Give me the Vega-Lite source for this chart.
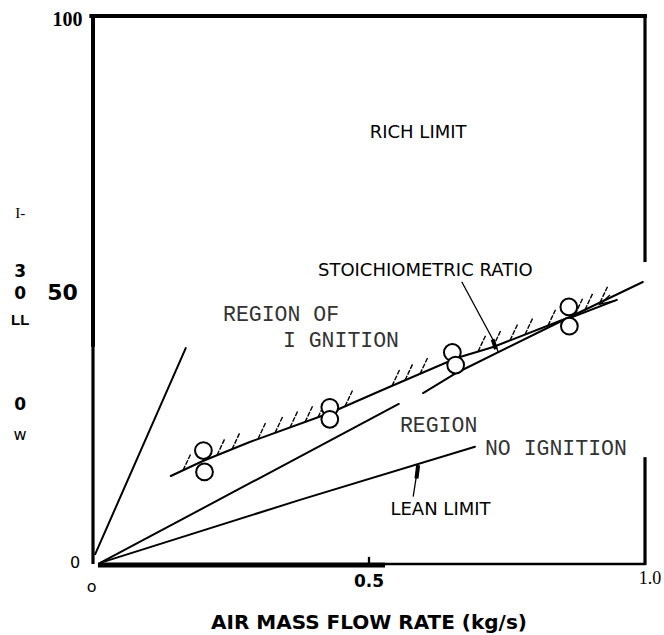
{
  "$schema": "https://vega.github.io/schema/vega-lite/v6.json",
  "width": 552,
  "height": 548,
  "autosize": {"type": "none"},
  "padding": {"left": 93, "top": 16, "right": 19, "bottom": 71},
  "background": "white",
  "config": {"view": {"stroke": null}},
  "datasets": {
    "frame": [
      {"part": "top", "x": -0.003, "y": 100, "x2": 1.0, "y2": 100},
      {"part": "left-upper", "x": 0, "y": 100, "x2": 0, "y2": 40},
      {"part": "left-lower", "x": 0, "y": 40, "x2": 0, "y2": 0},
      {"part": "right-upper", "x": 1.0, "y": 100.3, "x2": 1.0, "y2": 55.1},
      {"part": "right-lower", "x": 1.0, "y": 19.5, "x2": 1.0, "y2": -0.2},
      {"part": "bottom-left", "x": 0.009, "y": -0.2, "x2": 0.529, "y2": -0.2},
      {"part": "bottom-right", "x": 0.529, "y": 0, "x2": 1.0, "y2": 0},
      {"part": "tick-half", "x": 0.5, "y": 0, "x2": 0.5, "y2": 1.3}
    ],
    "curves": [
      {"curve": "rich-limit", "ord": 1, "x": 0.004, "y": 1.8},
      {"curve": "rich-limit", "ord": 2, "x": 0.168, "y": 39.4},
      {"curve": "stoichiometric-a", "ord": 1, "x": 0.013, "y": 0.2},
      {"curve": "stoichiometric-a", "ord": 2, "x": 0.554, "y": 29.2},
      {"curve": "stoichiometric-b", "ord": 1, "x": 0.598, "y": 31.2},
      {"curve": "stoichiometric-b", "ord": 2, "x": 0.659, "y": 34.9},
      {"curve": "stoichiometric-b", "ord": 3, "x": 0.846, "y": 44.2},
      {"curve": "stoichiometric-b", "ord": 4, "x": 0.949, "y": 48.2},
      {"curve": "lean-limit", "ord": 1, "x": 0.013, "y": 0.2},
      {"curve": "lean-limit", "ord": 2, "x": 0.375, "y": 11.7},
      {"curve": "lean-limit", "ord": 3, "x": 0.692, "y": 21.4},
      {"curve": "ignition-boundary", "ord": 1, "x": 0.141, "y": 16.06},
      {"curve": "ignition-boundary", "ord": 2, "x": 0.199, "y": 18.80},
      {"curve": "ignition-boundary", "ord": 3, "x": 0.284, "y": 22.26},
      {"curve": "ignition-boundary", "ord": 4, "x": 0.429, "y": 27.55},
      {"curve": "ignition-boundary", "ord": 5, "x": 0.520, "y": 31.57},
      {"curve": "ignition-boundary", "ord": 6, "x": 0.659, "y": 37.59},
      {"curve": "ignition-boundary", "ord": 7, "x": 0.725, "y": 39.60},
      {"curve": "ignition-boundary", "ord": 8, "x": 0.864, "y": 45.07},
      {"curve": "ignition-boundary", "ord": 9, "x": 0.996, "y": 51.46}
    ],
    "pointers": [
      {"curve": "lean-pointer", "ord": 1, "x": 0.589, "y": 18.1},
      {"curve": "lean-pointer", "ord": 2, "x": 0.580, "y": 12.3},
      {"curve": "stoich-pointer", "ord": 1, "x": 0.668, "y": 51.5},
      {"curve": "stoich-pointer", "ord": 2, "x": 0.728, "y": 40.3},
      {"curve": "stoich-pointer", "ord": 3, "x": 0.734, "y": 38.7},
      {"curve": "end-arrow", "ord": 1, "x": 0.9366, "y": 49.1},
      {"curve": "end-arrow", "ord": 2, "x": 0.9185, "y": 47.4},
      {"curve": "end-arrow", "ord": 3, "x": 0.9475, "y": 48.1}
    ],
    "pointer_tips": [
      {"x": 0.589, "y": 18.0, "x2": 0.586, "y2": 15.6},
      {"x": 0.724, "y": 41.0, "x2": 0.730, "y2": 39.2}
    ],
    "hatch": [
      {"x": 0.1630, "y": 17.08, "x2": 0.1775, "y2": 20.18},
      {"x": 0.2246, "y": 19.84, "x2": 0.2391, "y2": 22.94},
      {"x": 0.2518, "y": 20.93, "x2": 0.2663, "y2": 24.03},
      {"x": 0.2989, "y": 22.82, "x2": 0.3134, "y2": 25.92},
      {"x": 0.3297, "y": 23.92, "x2": 0.3442, "y2": 27.02},
      {"x": 0.3569, "y": 24.91, "x2": 0.3714, "y2": 28.01},
      {"x": 0.3841, "y": 25.89, "x2": 0.3986, "y2": 28.99},
      {"x": 0.4076, "y": 26.75, "x2": 0.4221, "y2": 29.85},
      {"x": 0.4565, "y": 28.76, "x2": 0.4710, "y2": 31.86},
      {"x": 0.5417, "y": 32.50, "x2": 0.5562, "y2": 35.60},
      {"x": 0.5652, "y": 33.52, "x2": 0.5797, "y2": 36.62},
      {"x": 0.5924, "y": 34.69, "x2": 0.6069, "y2": 37.79},
      {"x": 0.6975, "y": 38.76, "x2": 0.7120, "y2": 41.86},
      {"x": 0.7246, "y": 39.60, "x2": 0.7391, "y2": 42.70},
      {"x": 0.7554, "y": 40.80, "x2": 0.7699, "y2": 43.90},
      {"x": 0.7826, "y": 41.88, "x2": 0.7971, "y2": 44.98},
      {"x": 0.8243, "y": 43.50, "x2": 0.8388, "y2": 46.60},
      {"x": 0.8732, "y": 45.51, "x2": 0.8877, "y2": 48.61},
      {"x": 0.8913, "y": 46.39, "x2": 0.9058, "y2": 49.49},
      {"x": 0.9185, "y": 47.70, "x2": 0.9330, "y2": 50.80}
    ],
    "tests": [
      {"x": 0.200, "y": 20.7},
      {"x": 0.202, "y": 16.8},
      {"x": 0.429, "y": 28.6},
      {"x": 0.429, "y": 26.4},
      {"x": 0.651, "y": 38.6},
      {"x": 0.657, "y": 36.3},
      {"x": 0.862, "y": 46.9},
      {"x": 0.863, "y": 43.4}
    ],
    "sans_labels": [
      {"text": "RICH LIMIT", "x": 0.589, "y": 78.6},
      {"text": "STOICHIOMETRIC RATIO", "x": 0.602, "y": 53.5},
      {"text": "LEAN LIMIT", "x": 0.6295, "y": 9.85}
    ],
    "mono_labels": [
      {"text": "REGION OF", "x": 0.2355, "y": 45.4},
      {"text": "I GNITION", "x": 0.344, "y": 40.7},
      {"text": "REGION", "x": 0.556, "y": 25.2},
      {"text": "NO IGNITION", "x": 0.710, "y": 21.0}
    ],
    "bold_small": [
      {"text": "3", "x": -0.132, "y": 53.2},
      {"text": "0", "x": -0.132, "y": 49.3},
      {"text": "0", "x": -0.132, "y": 29.0}
    ],
    "bold_big": [
      {"text": "50", "x": -0.0553, "y": 49.5}
    ],
    "bold_mid": [
      {"text": "0.5", "x": 0.5, "y": -3.28}
    ],
    "title": [
      {"text": "AIR MASS FLOW RATE (kg/s)", "x": 0.5, "y": -10.77}
    ],
    "narrow_bold": [
      {"text": "LL", "x": -0.132, "y": 44.5}
    ],
    "serif_bold": [
      {"text": "100", "x": -0.046, "y": 99.3}
    ],
    "serif_small": [
      {"text": "I-", "x": -0.132, "y": 64.1}
    ],
    "serif_mid": [
      {"text": "1.0", "x": 1.009, "y": -2.65}
    ],
    "plain": [
      {"text": "0", "x": -0.0326, "y": 0.2},
      {"text": "o", "x": -0.0024, "y": -4.2},
      {"text": "w", "x": -0.132, "y": 23.5}
    ]
  },
  "encoding": {
    "x": {"field": "x", "type": "quantitative", "scale": {"domain": [0, 1], "nice": false, "zero": false}, "axis": null},
    "y": {"field": "y", "type": "quantitative", "scale": {"domain": [0, 100], "nice": false, "zero": false}, "axis": null}
  },
  "layer": [
    {
      "data": {"name": "frame"},
      "transform": [{"filter": {"field": "part", "oneOf": ["top", "left-upper"]}}],
      "mark": {"type": "rule", "color": "black", "strokeWidth": 4, "strokeCap": "square"},
      "encoding": {"x2": {"field": "x2"}, "y2": {"field": "y2"}}
    },
    {
      "data": {"name": "frame"},
      "transform": [{"filter": {"field": "part", "oneOf": ["bottom-left"]}}],
      "mark": {"type": "rule", "color": "black", "strokeWidth": 5},
      "encoding": {"x2": {"field": "x2"}, "y2": {"field": "y2"}}
    },
    {
      "data": {"name": "frame"},
      "transform": [{"filter": {"field": "part", "oneOf": ["left-lower", "right-upper", "right-lower"]}}],
      "mark": {"type": "rule", "color": "black", "strokeWidth": 3.2},
      "encoding": {"x2": {"field": "x2"}, "y2": {"field": "y2"}}
    },
    {
      "data": {"name": "frame"},
      "transform": [{"filter": {"field": "part", "oneOf": ["bottom-right", "tick-half"]}}],
      "mark": {"type": "rule", "color": "black", "strokeWidth": 2.3},
      "encoding": {"x2": {"field": "x2"}, "y2": {"field": "y2"}}
    },
    {
      "data": {"name": "curves"},
      "mark": {"type": "line", "color": "black", "strokeWidth": 2, "strokeCap": "round"},
      "encoding": {"detail": {"field": "curve"}, "order": {"field": "ord"}}
    },
    {
      "data": {"name": "pointers"},
      "mark": {"type": "line", "color": "black", "strokeWidth": 1.3},
      "encoding": {"detail": {"field": "curve"}, "order": {"field": "ord"}}
    },
    {
      "data": {"name": "pointer_tips"},
      "mark": {"type": "rule", "color": "black", "strokeWidth": 4},
      "encoding": {"x2": {"field": "x2"}, "y2": {"field": "y2"}}
    },
    {
      "data": {"name": "hatch"},
      "mark": {"type": "rule", "color": "black", "strokeWidth": 1.4, "strokeDash": [5, 1.3]},
      "encoding": {"x2": {"field": "x2"}, "y2": {"field": "y2"}}
    },
    {
      "data": {"name": "tests"},
      "mark": {"type": "point", "shape": "circle", "size": 280, "stroke": "black", "strokeWidth": 2, "fill": "white", "fillOpacity": 1, "opacity": 1}
    },
    {
      "data": {"name": "sans_labels"},
      "mark": {"type": "text", "font": "DejaVu Sans", "fontSize": 18, "align": "center", "baseline": "middle", "color": "black"},
      "encoding": {"text": {"field": "text"}}
    },
    {
      "data": {"name": "mono_labels"},
      "mark": {"type": "text", "font": "Liberation Mono", "fontSize": 21.5, "align": "left", "baseline": "middle", "color": "#333"},
      "encoding": {"text": {"field": "text"}}
    },
    {
      "data": {"name": "bold_small"},
      "mark": {"type": "text", "font": "DejaVu Sans", "fontWeight": "bold", "fontSize": 17, "align": "center", "baseline": "middle", "color": "black"},
      "encoding": {"text": {"field": "text"}}
    },
    {
      "data": {"name": "bold_big"},
      "mark": {"type": "text", "font": "DejaVu Sans", "fontWeight": "bold", "fontSize": 22, "align": "center", "baseline": "middle", "color": "black"},
      "encoding": {"text": {"field": "text"}}
    },
    {
      "data": {"name": "bold_mid"},
      "mark": {"type": "text", "font": "DejaVu Sans", "fontWeight": "bold", "fontSize": 17, "align": "center", "baseline": "middle", "color": "black"},
      "encoding": {"text": {"field": "text"}}
    },
    {
      "data": {"name": "title"},
      "mark": {"type": "text", "font": "DejaVu Sans", "fontWeight": "bold", "fontSize": 20, "align": "center", "baseline": "middle", "color": "black"},
      "encoding": {"text": {"field": "text"}}
    },
    {
      "data": {"name": "narrow_bold"},
      "mark": {"type": "text", "font": "Liberation Sans", "fontWeight": "bold", "fontSize": 15, "align": "center", "baseline": "middle", "color": "black"},
      "encoding": {"text": {"field": "text"}}
    },
    {
      "data": {"name": "serif_bold"},
      "mark": {"type": "text", "font": "Liberation Serif", "fontWeight": "bold", "fontSize": 20, "align": "center", "baseline": "middle", "color": "black"},
      "encoding": {"text": {"field": "text"}}
    },
    {
      "data": {"name": "serif_small"},
      "mark": {"type": "text", "font": "Liberation Serif", "fontSize": 15, "align": "center", "baseline": "middle", "color": "black"},
      "encoding": {"text": {"field": "text"}}
    },
    {
      "data": {"name": "serif_mid"},
      "mark": {"type": "text", "font": "Liberation Serif", "fontSize": 18, "align": "center", "baseline": "middle", "color": "black"},
      "encoding": {"text": {"field": "text"}}
    },
    {
      "data": {"name": "plain"},
      "mark": {"type": "text", "font": "DejaVu Sans", "fontSize": 16, "align": "center", "baseline": "middle", "color": "black"},
      "encoding": {"text": {"field": "text"}}
    }
  ]
}
